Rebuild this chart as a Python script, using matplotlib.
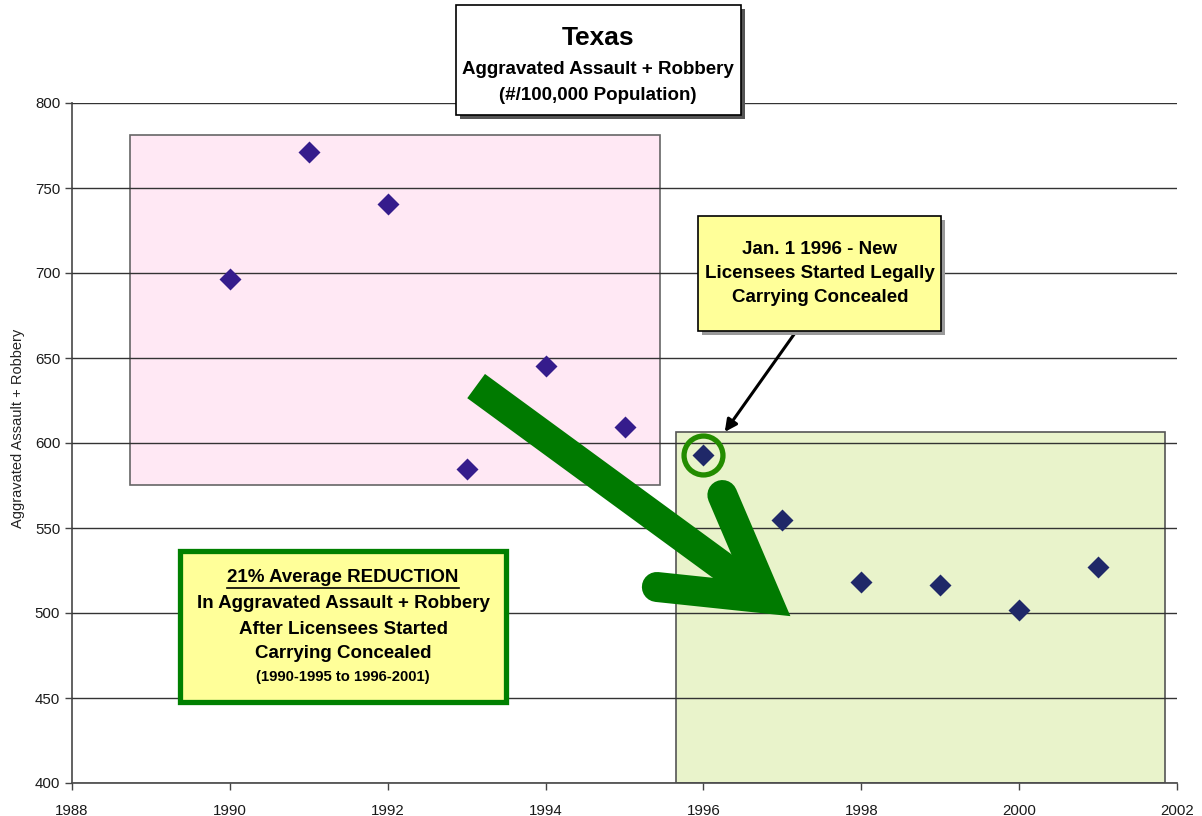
import matplotlib
matplotlib.use("Agg")
import matplotlib.pyplot as plt
from matplotlib.patches import Rectangle
from matplotlib.lines import Line2D

plt.rcParams["font.family"] = ["Liberation Sans", "DejaVu Sans"]

# data
years_before = [1990, 1991, 1992, 1993, 1994, 1995]
rate_before = [696.5, 771, 740.5, 584.5, 645.5, 609.5]
years_after = [1996, 1997, 1998, 1999, 2000, 2001]
rate_after = [593, 554.5, 518, 516.5, 502, 527]

W, H = 1202, 816
fig = plt.figure(figsize=(W / 100, H / 100), dpi=100)
ax = fig.add_axes([72 / W, 33 / H, 1105 / W, 680 / H])


def px(x, y):
    # pixel position (top-left origin) -> figure fraction
    return x / W, 1 - y / H


ax.set_xlim(1988, 2002)
ax.set_ylim(400, 800)
ax.set_xticks(range(1988, 2003, 2))
ax.set_yticks(range(400, 801, 50))
ax.tick_params(direction="out", length=5, width=1, colors="#444444",
               labelsize=10.8, labelcolor="#1a1a1a")
ax.tick_params(axis="x", pad=10)
for s in ["top", "right"]:
    ax.spines[s].set_visible(False)
for s in ["left", "bottom"]:
    ax.spines[s].set_color("#555555")
    ax.spines[s].set_linewidth(1.3)
ax.set_axisbelow(False)
ax.grid(True, axis="y", color="#333333", linewidth=1, zorder=1)

# shaded periods
ax.add_patch(Rectangle((1988.73, 575.3), 1995.45 - 1988.73, 781.2 - 575.3,
                       facecolor="#ffe8f4", edgecolor="#666666", lw=1.2, zorder=0))
ax.add_patch(Rectangle((1995.65, 400), 2001.85 - 1995.65, 606.5 - 400,
                       facecolor="#e9f3cb", edgecolor="#555555", lw=1.2, zorder=0))

# big green arrow
green = "#007a00"
ax.add_line(Line2D([1993.12, 1996.8], [633.5, 508.5], color=green, lw=21.6,
                   solid_capstyle="butt", zorder=3))
ax.add_line(Line2D([1995.41, 1996.8, 1996.24], [515.3, 508.5, 569.4], color=green,
                   lw=21.6, solid_capstyle="round", solid_joinstyle="miter", zorder=3))

# data points
ax.plot(years_before, rate_before, "D", color="#351c8c", ms=11, mec="none", zorder=4)
ax.plot(years_after, rate_after, "D", color="#1f2868", ms=11, mec="none", zorder=4)

# ring around 1996
ax.plot([years_after[0]], [rate_after[0]], "o", ms=28, mfc="none",
        mec="#238c00", mew=3.8, zorder=5)

# black pointer arrow
ax.annotate("", xy=(1996.27, 606.5), xytext=(1997.16, 664.7),
            arrowprops=dict(arrowstyle="-|>", color="black", lw=2.2,
                            mutation_scale=18, shrinkA=0, shrinkB=0), zorder=5)


def box(x0, y0, x1, y1, face, edge, lw, shadow=None):
    if shadow:
        sx, sy = px(x0 + 4, y1 + 4)
        fig.add_artist(Rectangle((sx, sy), (x1 - x0) / W, (y1 - y0) / H,
                                 transform=fig.transFigure, facecolor=shadow,
                                 edgecolor="none", zorder=6))
    bx, by = px(x0, y1)
    fig.add_artist(Rectangle((bx, by), (x1 - x0) / W, (y1 - y0) / H,
                             transform=fig.transFigure, facecolor=face,
                             edgecolor=edge, lw=lw, zorder=7))


# title box
box(456, 5, 741, 115, "white", "black", 1.2, shadow="#555555")
fig.text(*px(598, 38), "Texas", ha="center", va="center", fontsize=19,
         fontweight="bold", zorder=8)
fig.text(*px(598, 70), "Aggravated Assault + Robbery", ha="center", va="center",
         fontsize=13.5, fontweight="bold", zorder=8)
fig.text(*px(598, 95), "(#/100,000 Population)", ha="center", va="center",
         fontsize=13.5, fontweight="bold", zorder=8)

# yellow note box
box(698, 216, 941, 331, "#ffff99", "black", 1.2, shadow="#999999")
for yy, t in zip([250, 274, 298], ["Jan. 1 1996 - New",
                                   "Licensees Started Legally",
                                   "Carrying Concealed"]):
    fig.text(*px(820, yy), t, ha="center", va="center", fontsize=13.5,
             fontweight="bold", zorder=8)

# green-bordered summary box
box(180, 551, 506, 702, "#ffff99", "#008000", 3.8)
head = fig.text(*px(343, 578), "21% Average REDUCTION", ha="center", va="center",
                fontsize=13.5, fontweight="bold", zorder=8)
for yy, t in zip([604, 630, 654], ["In Aggravated Assault + Robbery",
                                   "After Licensees Started",
                                   "Carrying Concealed"]):
    fig.text(*px(343, yy), t, ha="center", va="center", fontsize=13.5,
             fontweight="bold", zorder=8)
fig.text(*px(343, 677), "(1990-1995 to 1996-2001)", ha="center", va="center",
         fontsize=10.7, fontweight="bold", zorder=8)

fig.canvas.draw()
bb = head.get_window_extent()
fig.add_artist(Line2D([bb.x0 / W, bb.x1 / W], [(bb.y0 - 1) / H, (bb.y0 - 1) / H],
                      transform=fig.transFigure, color="black", lw=1.2, zorder=8))

fig.text(*px(18, 428), "Aggravated Assault + Robbery", rotation=90, ha="center",
         va="center", fontsize=10.5, color="#222222")

fig.savefig("out.png", dpi=100)
